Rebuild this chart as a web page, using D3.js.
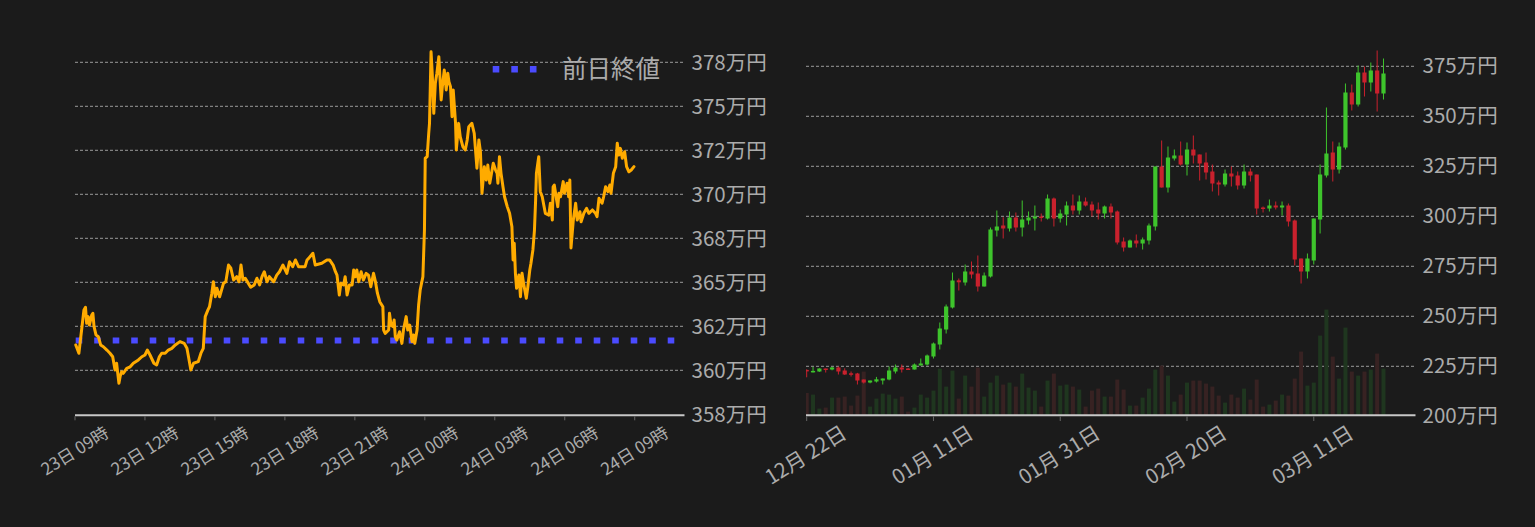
<!DOCTYPE html>
<html><head><meta charset="utf-8">
<script src="https://cdn.jsdelivr.net/npm/d3@7"></script>
<style>
html,body{margin:0;padding:0;background:#1b1b1b;}
svg{display:block;}
text{font-family:"Noto Sans CJK JP","Noto Sans",sans-serif;}
</style></head><body>
<svg id="chart" width="1535" height="527"></svg>
<script>
// ===== Left chart: intraday price (minutes after 23日 09:00, price in 万円) =====
const intradayStart = "2024-03-23T09:00:00Z";
const intradayEnd = "2024-03-24T11:08:00Z";
const intradayMinutes = [2,10,17,23,27,30,34,37,43,46,49,54,60,66,73,82,90,97,103,107,113,116,120,124,133,142,150,163,172,180,186,193,203,210,217,223,232,240,249,258,270,281,288,292,298,305,317,324,330,335,342,346,352,356,361,365,372,382,388,395,401,408,416,422,427,432,438,446,452,461,468,475,481,487,494,500,511,519,526,535,545,552,560,567,575,592,597,601,612,618,635,648,655,664,670,674,680,684,691,695,700,706,713,717,721,725,730,736,742,749,755,761,768,773,778,784,792,794,798,807,809,813,818,821,824,828,835,841,845,852,856,861,867,871,874,880,884,888,895,899,901,906,910,912,916,919,923,927,931,936,942,945,950,955,959,962,966,970,973,979,981,987,991,998,1004,1009,1013,1021,1027,1034,1039,1043,1047,1053,1058,1062,1067,1076,1082,1086,1088,1092,1096,1101,1105,1112,1118,1124,1127,1130,1133,1136,1142,1146,1150,1154,1161,1165,1170,1173,1178,1182,1185,1187,1193,1197,1202,1210,1219,1223,1228,1230,1233,1239,1242,1245,1249,1256,1259,1266,1270,1273,1276,1282,1288,1292,1299,1302,1309,1316,1322,1331,1339,1343,1348,1356,1360,1365,1371,1376,1379,1385,1391,1395,1399,1403,1408,1414,1419,1425,1431,1438];
const intradayPrices = [361.44,360.97,362.29,363.43,363.58,362.67,363.05,362.57,363.14,363.24,362.48,362.01,361.91,361.44,361.34,361.15,360.97,360.77,360.02,360.40,359.26,359.64,359.92,359.83,360.11,360.20,360.40,360.59,360.77,360.87,361.15,360.87,360.40,360.30,360.77,360.97,360.97,361.15,361.25,361.44,361.63,361.53,361.25,360.77,360.02,360.40,360.49,360.97,361.25,363.05,363.43,363.61,364.38,365.03,364.18,364.66,364.18,364.94,365.03,365.98,365.80,365.13,365.32,365.03,365.98,365.13,365.23,364.94,364.72,364.85,365.23,364.85,365.32,365.60,365.03,365.32,365.03,365.41,365.60,365.98,365.51,366.17,365.89,366.27,365.89,365.89,366.27,366.36,366.65,365.98,366.08,366.27,366.27,365.98,365.60,365.41,364.28,364.94,364.85,365.32,364.28,364.85,364.85,365.70,365.32,365.70,365.03,365.60,365.13,365.51,365.41,364.75,365.51,365.03,364.38,363.90,363.61,362.29,362.10,362.29,363.24,362.57,362.48,362.86,361.91,361.72,362.19,361.53,362.29,363.05,362.29,362.57,361.63,362.01,361.53,362.29,363.71,364.56,365.32,367.97,372.05,372.14,373.47,374.03,378.10,376.88,374.60,376.31,376.88,377.82,375.36,376.11,377.06,375.93,376.88,376.40,376.11,374.41,375.93,374.03,372.52,374.03,373.27,372.70,372.52,373.09,373.84,374.03,373.47,371.48,373.09,372.42,370.06,371.57,370.81,371.66,370.63,371.76,371.38,371.19,370.63,372.14,371.19,370.43,369.86,369.30,368.92,368.16,366.27,367.22,365.51,364.66,365.41,364.18,365.51,364.94,364.09,364.75,365.70,366.08,366.84,367.97,369.68,371.19,372.14,370.15,369.86,368.92,368.82,369.49,368.54,370.43,370.53,369.68,369.30,370.06,369.86,370.72,370.06,370.63,369.86,370.81,366.95,368.54,369.49,368.54,369.01,368.44,368.92,369.20,368.92,369.11,368.92,368.73,369.77,369.49,369.86,370.43,370.15,370.53,370.06,371.19,371.57,372.90,372.23,372.61,372.05,372.42,371.57,371.28,371.38,371.57];
const prevClose = 361.70;
const legendLabel = "前日終値";
const leftYTicks = [357.5,360,362.5,365,367.5,370,372.5,375,377.5];
const leftYLabels = ["358万円","360万円","362万円","365万円","368万円","370万円","372万円","375万円","378万円"];

// ===== Right chart: daily candles (万円) =====
const dailyStart = "2023-12-22T00:00:00Z";
const dailyEnd = "2024-03-27T01:12:00Z";
const opens  = [223.2,222.2,222.4,223.9,223.4,224.4,222.9,221.5,221.4,218.4,216.9,217.4,217.9,218.4,222.4,224.4,223.9,223.4,225.4,225.9,229.9,235.9,243.4,254.4,268.0,266.9,272.4,271.4,264.9,269.9,292.9,295.4,293.9,299.4,294.4,297.9,298.9,299.9,298.9,308.9,298.9,300.9,305.4,302.9,307.4,305.9,303.4,301.4,304.9,302.4,287.4,284.4,287.9,286.4,287.9,294.9,324.9,314.4,328.9,330.4,325.9,333.4,330.9,326.9,322.4,316.9,315.9,321.4,320.4,315.4,322.4,320.9,304.4,303.9,305.4,304.4,305.4,297.9,278.9,272.4,277.9,298.4,320.4,331.9,323.4,334.4,361.9,355.9,371.9,366.9,372.9,361.4];
const highs  = [223.5,224.7,224.0,223.9,224.7,224.9,224.0,222.4,221.7,218.4,217.9,219.7,218.9,224.9,225.9,225.9,224.2,226.4,228.9,230.9,236.9,246.9,255.9,271.9,268.9,275.9,277.4,280.4,271.9,294.4,302.9,299.5,302.4,301.9,307.9,302.4,305.4,301.4,310.9,309.4,303.4,307.4,310.9,310.4,309.4,307.4,306.9,305.4,306.4,302.9,289.4,288.4,290.9,289.4,296.4,324.9,337.9,334.9,333.4,337.4,336.9,340.4,330.9,331.9,325.9,317.9,323.4,324.9,322.4,325.9,323.9,320.9,304.9,308.4,307.4,307.4,306.4,298.4,278.9,281.4,298.9,325.9,354.4,337.4,336.9,366.4,365.9,375.4,374.9,376.9,382.9,378.9];
const lows   = [219.5,221.9,222.2,221.9,223.0,220.9,220.7,219.9,215.9,216.4,216.5,216.9,215.9,218.0,221.4,221.9,223.3,223.4,225.4,225.4,228.9,233.4,241.4,253.9,262.9,265.4,268.9,262.4,264.9,269.4,289.9,288.9,292.4,292.4,289.9,295.9,292.9,297.4,298.4,294.9,296.9,295.4,300.9,300.9,304.9,299.9,298.4,298.9,298.9,285.9,282.4,284.4,284.4,283.4,285.9,292.9,314.4,311.9,327.9,325.4,320.4,326.4,317.9,318.4,312.4,310.4,314.9,314.9,313.4,313.9,317.4,300.9,301.9,302.4,303.4,300.4,294.9,275.4,266.4,268.9,275.9,291.4,319.4,317.4,321.4,333.4,352.9,354.9,359.9,362.4,352.4,358.4];
const closes = [222.7,222.7,223.9,223.4,224.4,222.4,220.9,221.2,217.9,216.9,217.9,218.5,218.9,222.9,224.4,223.4,223.4,225.9,226.4,230.4,236.4,243.9,254.9,267.9,267.0,272.4,270.9,264.9,270.4,293.4,294.9,293.9,299.4,294.4,298.4,299.4,299.9,299.4,308.9,298.9,301.4,305.4,302.9,307.4,305.4,302.9,301.4,304.9,301.9,286.9,284.4,287.9,286.4,288.4,295.4,324.9,314.4,329.4,330.4,325.9,333.4,330.4,326.4,321.9,316.4,315.9,321.4,319.9,315.4,322.4,320.4,303.9,303.9,305.4,304.4,305.4,297.4,278.4,272.4,278.9,298.9,320.9,331.4,323.4,334.9,361.9,355.9,371.9,366.9,372.9,361.4,371.4];
const volumes = [22.3,20.7,6.7,7.7,17.7,17.7,18.7,9.7,19.7,43.7,8.7,16.7,21.7,20.7,16.7,18.7,3.7,7.7,20.7,17.7,24.7,46.7,28.7,44.7,16.7,39.7,28.7,47.7,18.7,32.7,39.7,30.7,32.7,28.7,41.7,27.7,24.7,8.7,34.7,41.7,29.7,30.7,28.7,25.7,8.7,24.7,26.7,18.7,18.7,35.7,25.7,9.7,9.7,17.7,26.7,45.7,49.7,39.7,13.7,20.7,32.7,34.7,34.7,31.7,28.7,19.7,12.7,20.7,17.7,26.7,15.7,35.7,8.7,10.7,14.7,20.7,19.7,36.7,63.7,29.7,32.7,79.7,105.7,58.7,36.7,87.7,43.7,39.7,43.7,45.7,61.7,46.7];
const rightYTicks = [200,225,250,275,300,325,350,375];
const rightYLabels = ["200万円","225万円","250万円","275万円","300万円","325万円","350万円","375万円"];
const dailyTickDates = ["2023-12-22","2024-01-11","2024-01-31","2024-02-20","2024-03-11"];
const dailyTickLabels = ["12月 22日","01月 11日","01月 31日","02月 20日","03月 11日"];

// ===== Styles =====
const C = {
  bg: "#1b1b1b", grid: "#9a9a9a", base: "#c8c8c8", text: "#ababab",
  line: "#ffab00", prev: "#4b4bff", up: "#3ec42c", down: "#c9212d",
  upVol: "#1f361f", downVol: "#372222", tick: "#666"
};

const svg = d3.select("#chart");
svg.append("rect").attr("width",1535).attr("height",527).attr("fill",C.bg);

// ---------------- Left chart ----------------
{
  const L = {x0: 75, x1: 684.5, yTop: 62.3, yBot: 414.3};
  const x = d3.scaleUtc().domain([new Date(intradayStart), new Date(intradayEnd)]).range([L.x0, L.x1]);
  const y = d3.scaleLinear().domain([357.5, 377.5]).range([L.yBot, L.yTop]);
  const g = svg.append("g");
  const t0 = new Date(intradayStart).getTime();
  const data = intradayMinutes.map((m,i)=>({t:new Date(t0+m*60000), p:intradayPrices[i]}));

  g.selectAll("line.grid").data(leftYTicks.slice(1)).join("line")
    .attr("x1",L.x0).attr("x2",L.x1+0.5).attr("y1",d=>y(d)).attr("y2",d=>y(d))
    .attr("stroke",C.grid).attr("stroke-width",1).attr("stroke-dasharray","3,2");
  g.append("line").attr("x1",L.x0).attr("x2",L.x1).attr("y1",y(357.5)+1).attr("y2",y(357.5)+1)
    .attr("stroke",C.base).attr("stroke-width",2);
  g.selectAll("text.yl").data(leftYTicks).join("text")
    .attr("x",L.x1+7).attr("y",(d)=>y(d)+1).attr("dy","0.35em")
    .attr("fill",C.text).attr("font-size",20.5).text((d,i)=>leftYLabels[i]);
  const xt = d3.utcHour.every(3).range(new Date(intradayStart), new Date(t0+24*3600000+1));
  const fmt = d3.utcFormat("%d日 %H時");
  g.selectAll("line.xt").data(xt).join("line")
    .attr("x1",d=>x(d)).attr("x2",d=>x(d)).attr("y1",y(357.5)+2).attr("y2",y(357.5)+6)
    .attr("stroke",C.tick).attr("stroke-width",1);
  g.selectAll("text.xl").data(xt).join("text")
    .attr("transform",d=>`translate(${x(d)},451) rotate(-32)`)
    .attr("text-anchor","middle").attr("dy","0.35em")
    .attr("fill",C.text).attr("font-size",17).text(d=>fmt(d));
  g.append("line").attr("x1",L.x0+0.7).attr("x2",L.x1).attr("y1",y(prevClose)).attr("y2",y(prevClose))
    .attr("stroke",C.prev).attr("stroke-width",6).attr("stroke-dasharray","6.6,11.9");
  g.append("path").datum(data)
    .attr("d",d3.line().x(d=>x(d.t)).y(d=>y(d.p)))
    .attr("fill","none").attr("stroke",C.line).attr("stroke-width",3)
    .attr("stroke-linejoin","round").attr("stroke-linecap","round");
  g.append("line").attr("x1",492.7).attr("x2",537).attr("y1",69.2).attr("y2",69.2)
    .attr("stroke",C.prev).attr("stroke-width",6.5).attr("stroke-dasharray","6.6,12");
  g.append("text").attr("x",562).attr("y",69).attr("dy","0.36em")
    .attr("fill",C.text).attr("font-size",24.5).text(legendLabel);
}

// ---------------- Right chart ----------------
{
  const R = {x0: 806, x1: 1415.5, first: 806.7, yTop: 66.3, yBot: 416.3};
  const x = d3.scaleUtc().domain([new Date(dailyStart), new Date(dailyEnd)]).range([R.first, R.x1]);
  const y = d3.scaleLinear().domain([200, 375]).range([R.yBot, R.yTop]);
  const yv = d3.scaleLinear().domain([0, 100]).range([R.yBot-1, R.yBot-101]);
  const g = svg.append("g");
  const d0 = new Date(dailyStart).getTime();
  const data = opens.map((o,i)=>({d:new Date(d0+i*86400000), o, h:highs[i], l:lows[i], c:closes[i], v:volumes[i]}));

  svg.append("clipPath").attr("id","rclip").append("rect")
    .attr("x",R.x0).attr("y",0).attr("width",R.x1-R.x0).attr("height",416);

  g.selectAll("line.grid").data(rightYTicks.slice(1)).join("line")
    .attr("x1",R.x0).attr("x2",R.x1).attr("y1",d=>y(d)).attr("y2",d=>y(d))
    .attr("stroke",C.grid).attr("stroke-width",1).attr("stroke-dasharray","3,2");

  const plot = g.append("g").attr("clip-path","url(#rclip)");
  const bw = 4.2;
  plot.selectAll("rect.vol").data(data).join("rect")
    .attr("x",d=>x(d.d)-2).attr("width",4)
    .attr("y",d=>yv(d.v)).attr("height",d=>yv(0)-yv(d.v))
    .attr("fill",d=>d.c>=d.o?C.upVol:C.downVol);
  plot.selectAll("line.wick").data(data).join("line")
    .attr("x1",d=>x(d.d)).attr("x2",d=>x(d.d))
    .attr("y1",d=>y(d.h)).attr("y2",d=>y(d.l))
    .attr("stroke",d=>d.c>=d.o?C.up:C.down).attr("stroke-width",1);
  plot.selectAll("rect.body").data(data).join("rect")
    .attr("x",d=>x(d.d)-bw/2).attr("width",bw)
    .attr("y",d=>y(Math.max(d.o,d.c)))
    .attr("height",d=>Math.max(1.5, Math.abs(y(d.o)-y(d.c))))
    .attr("fill",d=>d.c>=d.o?C.up:C.down);

  g.append("line").attr("x1",R.x0).attr("x2",R.x1).attr("y1",415.3).attr("y2",415.3)
    .attr("stroke",C.base).attr("stroke-width",2);
  g.selectAll("text.yl").data(rightYTicks).join("text")
    .attr("x",R.x1+7).attr("y",d=>y(d)).attr("dy","0.35em")
    .attr("fill",C.text).attr("font-size",20.5).text((d,i)=>rightYLabels[i]);
  const tds = dailyTickDates.map(s=>new Date(s+"T00:00:00Z"));
  g.selectAll("line.xt").data(tds).join("line")
    .attr("x1",d=>x(d)).attr("x2",d=>x(d)).attr("y1",416.3).attr("y2",421)
    .attr("stroke",C.tick).attr("stroke-width",1);
  g.selectAll("text.xl").data(tds).join("text")
    .attr("transform",d=>`translate(${x(d)-1},455) rotate(-32)`)
    .attr("text-anchor","middle").attr("dy","0.35em")
    .attr("fill",C.text).attr("font-size",20.5).text((d,i)=>dailyTickLabels[i]);
}
</script>
</body></html>
